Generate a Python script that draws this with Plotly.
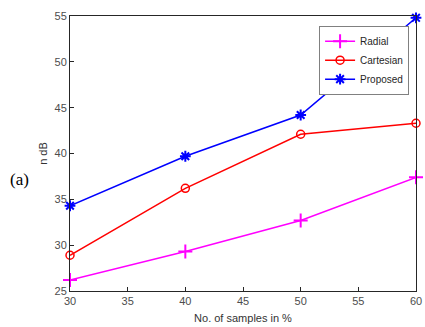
import plotly.graph_objects as go

samples = [30, 40, 50, 60]
radial = [26.2, 29.3, 32.7, 37.4]
cartesian = [28.9, 36.2, 42.1, 43.3]
proposed = [34.3, 39.7, 44.2, 54.8]

fig = go.Figure()
fig.add_trace(go.Scatter(x=samples, y=radial, name="Radial", mode="lines+markers", cliponaxis=False,
                         line=dict(color="#ff00ff", width=1.5),
                         marker=dict(symbol="cross-thin", size=10, line=dict(color="#ff00ff", width=2))))
fig.add_trace(go.Scatter(x=samples, y=cartesian, name="Cartesian", mode="lines+markers", cliponaxis=False,
                         line=dict(color="#ff0000", width=1.5),
                         marker=dict(symbol="circle-open", size=8, line=dict(color="#ff0000", width=1.5))))
fig.add_trace(go.Scatter(x=samples, y=proposed, name="Proposed", mode="lines+markers", cliponaxis=False,
                         line=dict(color="#0000ff", width=1.5),
                         marker=dict(symbol="asterisk-open", size=9, line=dict(color="#0000ff", width=2))))

axis_common = dict(showline=True, linecolor="#262626", linewidth=1, mirror=True, automargin=False,
                   ticks="inside", ticklen=4, tickcolor="#262626", showgrid=False, zeroline=False,
                   tickfont=dict(family="Liberation Sans", size=11, color="#4d4d4d"))

fig.update_layout(
    width=425, height=327,
    margin=dict(l=70, r=9, t=16, b=36),
    paper_bgcolor="white", plot_bgcolor="white",
    xaxis=dict(range=[30, 60], tickvals=[30, 35, 40, 45, 50, 55, 60],
               title=dict(text="No. of samples in %", standoff=8,
                          font=dict(family="Liberation Sans", size=11, color="#333333")),
               **axis_common),
    yaxis=dict(range=[25, 55], tickvals=[25, 30, 35, 40, 45, 50, 55],
               title=dict(text="n dB", standoff=4,
                          font=dict(family="Liberation Sans", size=11, color="#333333")),
               **axis_common),
    legend=dict(x=0.98, y=0.965, xanchor="right", yanchor="top",
                bgcolor="white", bordercolor="#808080", borderwidth=1,
                font=dict(family="Liberation Sans", size=10, color="#262626"),
                tracegroupgap=0, itemwidth=30),
    showlegend=True,
)
fig.add_annotation(text="(a)", xref="paper", yref="paper", x=-0.147, y=0.405,
                   xanchor="center", yanchor="middle", showarrow=False,
                   font=dict(family="Liberation Serif", size=17, color="black"))

fig.write_html("out.html")
